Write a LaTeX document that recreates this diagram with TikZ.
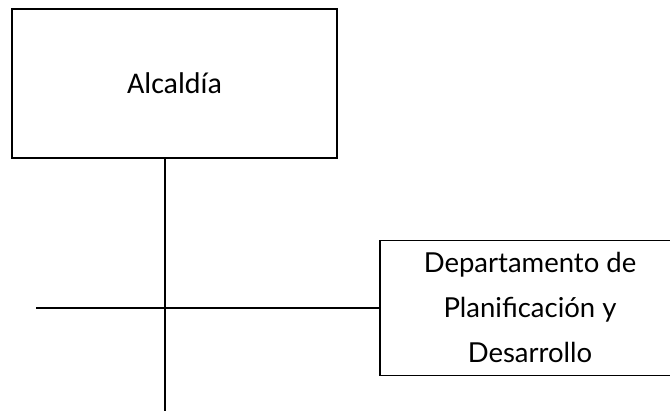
\documentclass[tikz,border=0pt]{standalone}
\usepackage{fontspec}
\setmainfont{Carlito}
\newfontfamily\deptofont{Lato}

\begin{document}
\begin{tikzpicture}[x=1pt, y=-1pt, line width=1.5pt,
		unidad/.style={draw, black, line width=1.5pt, inner sep=0pt}]
			\useasboundingbox (0, 0) rectangle (670, 412);

			\node [unidad, minimum width=325pt, minimum height=149pt,
			font=\fontsize{30}{36}\selectfont] (alcaldia) at (174.5, 83.5) {Alcaldía};

			\node [unidad, minimum width=300pt, minimum height=128pt,
			font=\deptofont\fontsize{27.5}{45}\selectfont] (depto) at (530, 308)
			{\raisebox{-5pt}{\begin{tabular}{@{}c@{}}Departamento de\\Planificación y\\Desarrollo\end{tabular}}};

			\coordinate (abajo) at (165, 411);
			\coordinate (izq) at (36, 308);

			\draw (alcaldia.south -| abajo) -- (abajo);
			\draw (izq) -- (depto.west);
		\end{tikzpicture}
\end{document}
